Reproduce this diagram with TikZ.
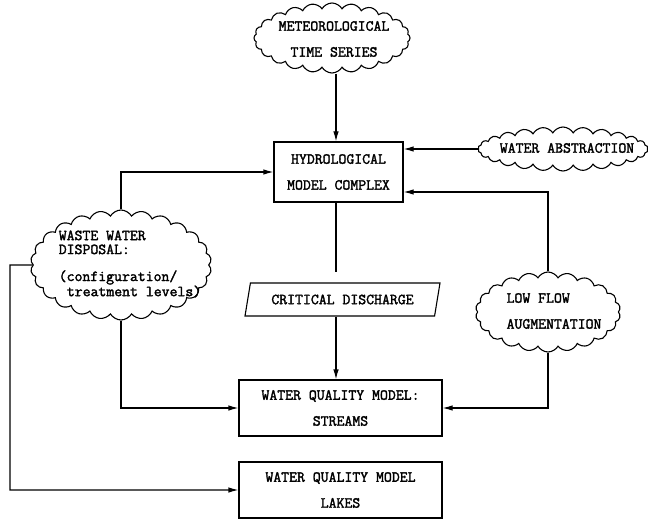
\documentclass[tikz,border=0pt]{standalone}
\usepackage{fontspec}
\newfontfamily\cour{lmmono12-regular.otf}[FakeBold=2]
\usetikzlibrary{shapes.symbols,shapes.geometric,arrows.meta,calc}
\begin{document}
\begin{tikzpicture}[x=1bp,y=-1bp,line width=1.1bp,
  every node/.style={font=\cour\fontsize{15.4}{26}\selectfont,inner sep=0pt},
  box/.style={draw,minimum width=203bp,minimum height=56bp,align=center},
  puff/.style={draw,cloud,cloud puffs=#1,cloud puff arc=120,cloud ignores aspect},
  lbl/.style={align=center},
  arr/.style={-{Latex[length=10bp,width=5.5bp]}}]
\useasboundingbox (0,0) rectangle (648,520);
% axis coordinates
\coordinate (axis) at (336,0);
\coordinate (lft) at (10,265);
% nodes
\node[puff=24,minimum width=156bp,minimum height=70bp] (met) at (332,38) {};
\node[lbl] (metT) at (334,39) {METEOROLOGICAL\\TIME SERIES};
\node[box,minimum width=129bp,minimum height=60bp] (hydro) at (338.5,172) {HYDROLOGICAL\\MODEL COMPLEX};
\node[puff=26,minimum width=170bp,minimum height=44bp] (wabs) at (563,149) {};
\node (wabsT) at (567,148) {WATER ABSTRACTION};
\node[puff=26,minimum width=181bp,minimum height=110bp] (waste) at (121,265) {};
\node[align=left,font=\cour\fontsize{15.4}{14}\selectfont] (wasteT) at (130,264)
  {WASTE WATER\\DISPOSAL:\\[13bp](configuration/\\\hspace*{8.1bp}treatment levels)};
\node[draw,trapezium,trapezium left angle=61,trapezium right angle=119,trapezium stretches body,
  minimum width=195bp,minimum height=33bp] (crit) at (342.5,299.5) {CRITICAL DISCHARGE};
\node[puff=22,minimum width=145bp,minimum height=80bp] (low) at (548,312) {};
\node[align=left] (lowT) at (554,311) {LOW FLOW\\AUGMENTATION};
\node[box] (streams) at (340.5,408) {WATER QUALITY MODEL:\\STREAMS};
\node[box] (lakes) at (340.5,490) {WATER QUALITY MODEL\\LAKES};
% connectors
\draw[arr] (met.south -| axis) -- (hydro.north -| axis);
\draw[arr] (wabs.west) -- (hydro.east |- wabs.west);
\draw[arr] (low.north) |- ($(hydro.east)+(0,20)$);
\draw[arr] (waste.north) |- (hydro.west);
\draw[arr] (waste.south) |- (streams.west);
\draw[arr] (waste.west) -- (lft) |- (lakes.west);
\draw[shorten >=10bp] (hydro.south -| axis) -- (crit.north -| axis);
\draw[arr] (crit.south -| axis) -- (streams.north -| axis);
\draw[arr] (low.south) |- (streams.east);
\end{tikzpicture}
\end{document}
